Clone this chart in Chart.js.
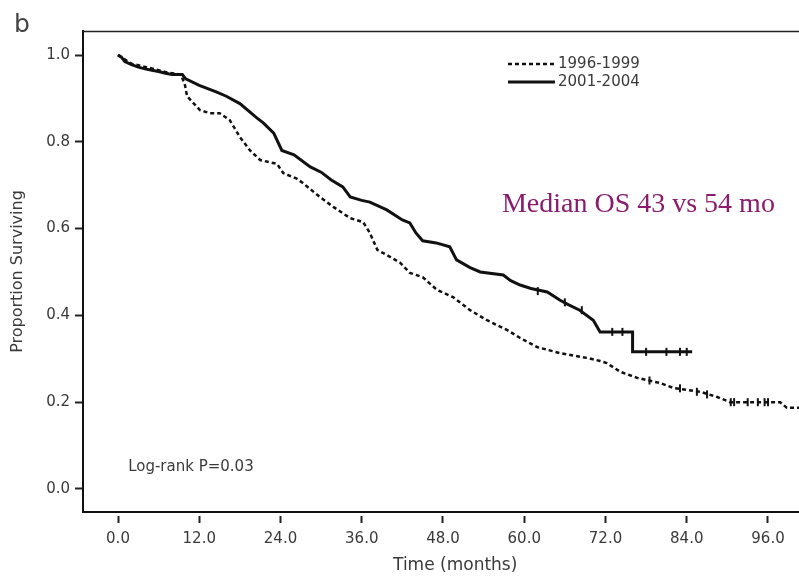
<!DOCTYPE html>
<html>
<head>
<meta charset="utf-8">
<style>
  html, body { margin: 0; padding: 0; background: #fff; }
</style>
<script src="https://cdn.jsdelivr.net/npm/chart.js@4.4.1/dist/chart.umd.min.js"></script>
</head>
<body>
<canvas id="chartCanvas" width="799" height="577"></canvas>
<script>
// Kaplan-Meier overall survival, two diagnosis periods
const seriesLabels = ['1996-1999', '2001-2004'];

const months9699 = [0, 1, 2, 4.7, 7.2, 9.3, 9.9, 10.2, 12.1, 13.6, 15, 16.5, 18, 19.5, 21, 23.5, 24.4,
  26.4, 27.3, 29.8, 31.8, 34.3, 36.2, 37.2, 38.3, 39.7, 41.7, 43.1, 45, 47.1, 49.5, 52, 54.5, 57.5,
  59.4, 61.9, 65.3, 69.3, 71.2, 72.2, 74.2, 76.7, 80.1, 82, 86, 88.5, 90.4, 97.8, 98.8, 100.6];
const surv9699 = [1.0, 0.99, 0.98, 0.97, 0.96, 0.955, 0.93, 0.905, 0.873, 0.866, 0.866, 0.85, 0.811,
  0.78, 0.758, 0.749, 0.728, 0.715, 0.705, 0.673, 0.65, 0.624, 0.615, 0.59, 0.551, 0.539, 0.521,
  0.498, 0.488, 0.459, 0.442, 0.412, 0.389, 0.366, 0.348, 0.327, 0.313, 0.302, 0.295, 0.29, 0.27,
  0.256, 0.244, 0.233, 0.224, 0.212, 0.2, 0.2, 0.187, 0.187];

const months0104 = [0, 0.5, 1, 2, 3, 4, 5, 6, 7, 8, 9.5, 10, 12, 14.5, 16, 18, 20.5, 21.5, 23, 24.2,
  26, 28.4, 30, 31.5, 33.2, 34.3, 36, 37.2, 39.7, 42, 43.1, 44, 45, 47, 49, 50, 52, 53.5, 56.9, 58,
  59.4, 61, 63.4, 65.3, 66.5, 68.2, 70.2, 71.2, 76, 76, 84.8];
const surv0104 = [1.0, 0.995, 0.985, 0.978, 0.972, 0.968, 0.965, 0.962, 0.958, 0.955, 0.955, 0.945,
  0.93, 0.915, 0.905, 0.888, 0.855, 0.843, 0.82, 0.78, 0.77, 0.742, 0.73, 0.712, 0.696, 0.673, 0.665,
  0.661, 0.643, 0.62, 0.613, 0.59, 0.572, 0.567, 0.558, 0.528, 0.51, 0.5, 0.493, 0.48, 0.47, 0.462,
  0.454, 0.435, 0.425, 0.412, 0.389, 0.362, 0.362, 0.316, 0.316];

// censoring ticks
const censorMonths9699 = [78.5, 83, 85.5, 87, 90.5, 91, 93, 94.5, 95.5, 96];
const censorSurv9699 = [0.25, 0.232, 0.224, 0.218, 0.2, 0.2, 0.2, 0.2, 0.2, 0.2];
const censorMonths0104 = [62, 66, 68.5, 73, 74.5, 78, 81, 83, 84];
const censorSurv0104 = [0.456, 0.43, 0.412, 0.362, 0.362, 0.316, 0.316, 0.316, 0.316];

const xTicks = [0, 12, 24, 36, 48, 60, 72, 84, 96];
const yTicks = [0, 0.2, 0.4, 0.6, 0.8, 1.0];

const LINE = '#111';
const TEXT = '#3a3a3a';
const SANS = '"DejaVu Sans", sans-serif';

function pts(xs, ys) {
  return xs.map((x, i) => ({ x: x, y: ys[i] }));
}

// Frame top line, panel letter, x title, inner legend and the two notes
const annotations = {
  id: 'annotations',
  afterDraw(chart) {
    const { ctx, chartArea, scales } = chart;
    const xs = scales.x, ys = scales.y;
    ctx.save();

    ctx.strokeStyle = '#222';
    ctx.lineWidth = 1.5;
    ctx.beginPath();
    ctx.moveTo(chartArea.left, chartArea.top + 0.5);
    ctx.lineTo(chartArea.right, chartArea.top + 0.5);
    ctx.stroke();

    ctx.fillStyle = '#444';
    ctx.font = '25px ' + SANS;
    ctx.textBaseline = 'alphabetic';
    ctx.fillText('b', 14, 32);

    // x axis title, centred a little right of the plot centre as in the source
    ctx.fillStyle = TEXT;
    ctx.font = '17px ' + SANS;
    ctx.textAlign = 'center';
    ctx.textBaseline = 'middle';
    ctx.fillText('Time (months)', xs.getPixelForValue(49.8), chart.height - 11);
    ctx.textAlign = 'left';

    // legend
    const legendRows = [0.979, 0.938];
    const lx = xs.getPixelForValue(57.6);
    ctx.font = '15px ' + SANS;
    [0, 1].forEach(i => {
      const ds = chart.data.datasets[i];
      const ly = ys.getPixelForValue(legendRows[i]);
      ctx.strokeStyle = ds.borderColor;
      ctx.lineWidth = ds.borderWidth;
      ctx.setLineDash(ds.borderDash || []);
      ctx.beginPath();
      ctx.moveTo(lx, ly);
      ctx.lineTo(lx + 47, ly);
      ctx.stroke();
      ctx.setLineDash([]);
      ctx.fillStyle = TEXT;
      ctx.fillText(ds.label, lx + 50, ly);
    });

    ctx.fillStyle = '#8a1c6e';
    ctx.font = '28px "Liberation Serif", serif';
    ctx.textBaseline = 'alphabetic';
    ctx.fillText('Median OS 43 vs 54 mo', xs.getPixelForValue(56.7), ys.getPixelForValue(0.638));

    ctx.fillStyle = TEXT;
    ctx.font = '15px ' + SANS;
    ctx.textBaseline = 'middle';
    ctx.fillText('Log-rank P=0.03', xs.getPixelForValue(1.5), ys.getPixelForValue(0.05));

    ctx.restore();
  }
};

const tickFont = { family: SANS, size: 15 };

new Chart(document.getElementById('chartCanvas').getContext('2d'), {
  type: 'line',
  data: {
    datasets: [
      {
        label: seriesLabels[0],
        data: pts(months9699, surv9699),
        borderColor: LINE,
        borderWidth: 2.5,
        borderDash: [4, 3],
        pointRadius: 0,
        tension: 0,
        fill: false
      },
      {
        label: seriesLabels[1],
        data: pts(months0104, surv0104),
        borderColor: LINE,
        borderWidth: 3,
        pointRadius: 0,
        tension: 0,
        fill: false
      },
      {
        label: 'censored ' + seriesLabels[0],
        data: pts(censorMonths9699, censorSurv9699),
        showLine: false,
        pointStyle: 'line',
        rotation: 90,
        pointRadius: 4,
        borderWidth: 2,
        borderColor: LINE
      },
      {
        label: 'censored ' + seriesLabels[1],
        data: pts(censorMonths0104, censorSurv0104),
        showLine: false,
        pointStyle: 'line',
        rotation: 90,
        pointRadius: 4,
        borderWidth: 2,
        borderColor: LINE
      }
    ]
  },
  options: {
    responsive: false,
    animation: false,
    layout: { autoPadding: false, padding: { top: 31, left: 0, right: 0, bottom: 0 } },
    plugins: {
      legend: { display: false },
      tooltip: { enabled: false }
    },
    scales: {
      x: {
        type: 'linear',
        min: -5.17,
        max: 100.58,
        afterBuildTicks: axis => { axis.ticks = xTicks.map(v => ({ value: v })); },
        afterFit: axis => {
          axis.height = 65;
          axis.paddingLeft = 0;
          axis.paddingRight = 0;
        },
        ticks: {
          callback: v => v.toFixed(1),
          font: tickFont,
          color: TEXT,
          padding: 7,
          autoSkip: false,
          maxRotation: 0
        },
        grid: {
          drawOnChartArea: false,
          tickLength: 11,
          tickWidth: 2,
          tickColor: '#222',
          tickBorderDash: [8, 3],
          tickBorderDashOffset: 8
        },
        border: { color: LINE, width: 2 }
      },
      y: {
        type: 'linear',
        min: -0.053,
        max: 1.0553,
        afterBuildTicks: axis => { axis.ticks = yTicks.map(v => ({ value: v })); },
        afterFit: axis => { axis.width = 83; },
        ticks: {
          callback: v => v.toFixed(1),
          font: tickFont,
          color: TEXT,
          padding: 5
        },
        grid: {
          drawOnChartArea: false,
          tickLength: 8,
          tickWidth: 2,
          tickColor: '#222'
        },
        border: { color: LINE, width: 2 },
        title: {
          display: true,
          text: 'Proportion Surviving',
          font: { family: SANS, size: 16 },
          color: TEXT,
          padding: { top: 8, bottom: 0 }
        }
      }
    }
  },
  plugins: [annotations]
});
</script>
</body>
</html>
